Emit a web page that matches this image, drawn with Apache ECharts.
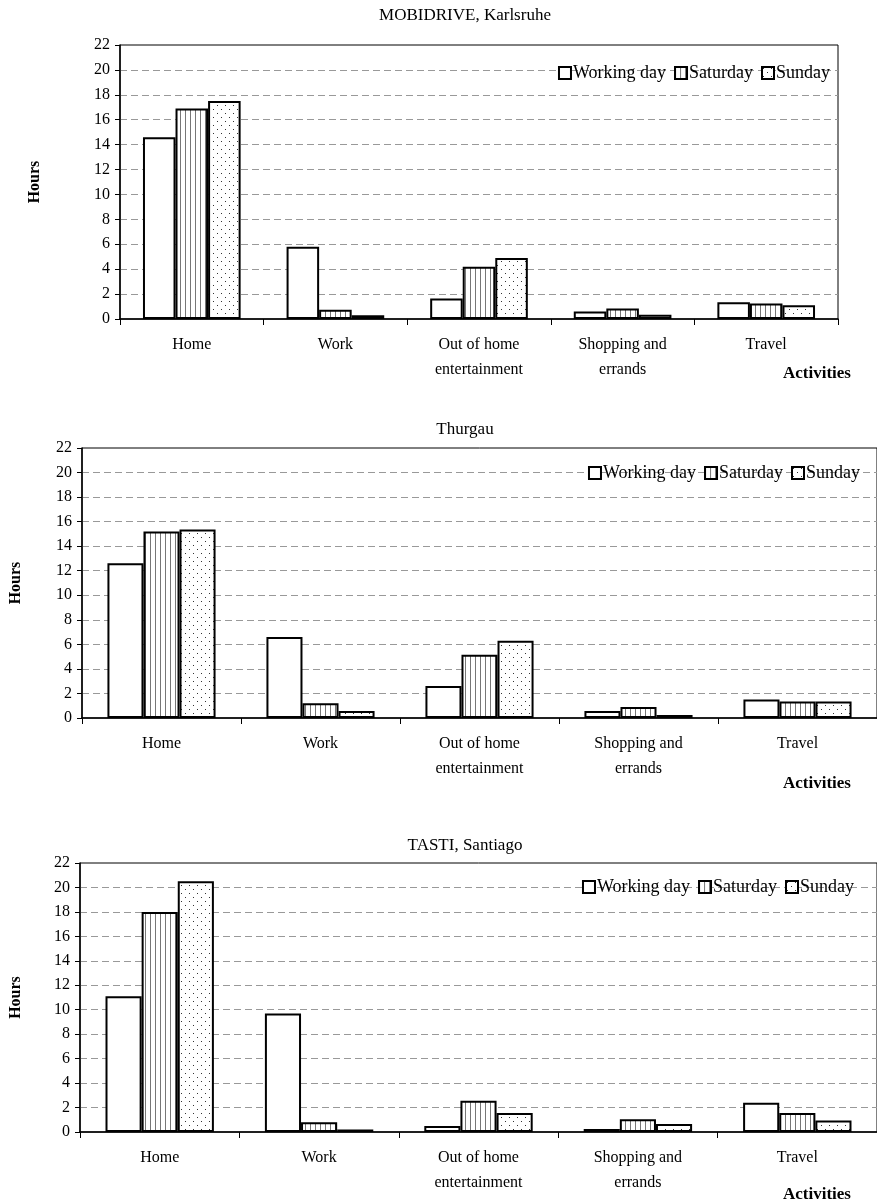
<!DOCTYPE html>
<html>
<head>
<meta charset="utf-8">
<script src="https://cdn.jsdelivr.net/npm/echarts@6/dist/echarts.min.js"></script>
<style>
  html, body { margin: 0; padding: 0; background: #fff; }
  #chart { width: 877px; height: 1201px; }
</style>
</head>
<body>
<div id="chart"></div>
<script>
// data
var categories = ['Home', 'Work', 'Out of home\nentertainment', 'Shopping and\nerrands', 'Travel'];
var dayTypes = ['Working day', 'Saturday', 'Sunday'];
var panelTitles = ['MOBIDRIVE, Karlsruhe', 'Thurgau', 'TASTI, Santiago'];
var yTicks = [0, 2, 4, 6, 8, 10, 12, 14, 16, 18, 20, 22];

var karlsruheWorking = [14.6, 5.8, 1.65, 0.6, 1.35];
var karlsruheSaturday = [16.9, 0.75, 4.2, 0.85, 1.25];
var karlsruheSunday = [17.5, 0.3, 4.9, 0.35, 1.1];

var thurgauWorking = [12.6, 6.6, 2.6, 0.57, 1.5];
var thurgauSaturday = [15.2, 1.2, 5.15, 0.9, 1.35];
var thurgauSunday = [15.35, 0.57, 6.3, 0.25, 1.35];

var santiagoWorking = [11.1, 9.7, 0.5, 0.25, 2.4];
var santiagoSaturday = [18.0, 0.8, 2.55, 1.05, 1.55];
var santiagoSunday = [20.5, 0.2, 1.55, 0.65, 0.95];

var panelData = [
  [karlsruheWorking, karlsruheSaturday, karlsruheSunday],
  [thurgauWorking, thurgauSaturday, thurgauSunday],
  [santiagoWorking, santiagoSaturday, santiagoSunday]
];

// fill patterns
function makePattern(w, h, draw) {
  var c = document.createElement('canvas');
  c.width = w; c.height = h;
  var ctx = c.getContext('2d');
  ctx.fillStyle = '#fff';
  ctx.fillRect(0, 0, w, h);
  draw(ctx);
  return { image: c, repeat: 'repeat' };
}
var stripes = makePattern(5, 4, function (ctx) {
  ctx.fillStyle = '#777';
  ctx.fillRect(0, 0, 1, 4);
});
var dots = makePattern(8, 8, function (ctx) {
  ctx.fillStyle = '#333';
  ctx.fillRect(1, 1, 1, 1);
  ctx.fillRect(5, 5, 1, 1);
});
var fills = ['#fff', stripes, dots];

// layout of the three panels
var layout = [
  { left: 120, width: 718, top: 45, height: 274, titleTop: 2, legendTop: 59, legendRight: 42, nameGap: 77, actTop: 360 },
  { left: 82, width: 800, top: 448, height: 270, titleTop: 416, legendTop: 459, legendRight: 12, nameGap: 58, actTop: 770 },
  { left: 80, width: 802, top: 863, height: 269, titleTop: 832, legendTop: 873, legendRight: 18, nameGap: 56, actTop: 1181 }
];

var font = 'Liberation Serif, Times New Roman, serif';
var grids = [], xAxes = [], yAxes = [], titles = [], legends = [], series = [];

layout.forEach(function (p, i) {
  grids.push({
    left: p.left, top: p.top, width: p.width, height: p.height,
    show: true, borderColor: '#000', borderWidth: 1, backgroundColor: 'transparent'
  });
  xAxes.push({
    type: 'category', gridIndex: i, data: categories,
    axisLine: { lineStyle: { color: '#000', width: 1.5 } },
    axisTick: { show: true, length: 6, lineStyle: { color: '#000' } },
    axisLabel: { color: '#000', fontFamily: font, fontSize: 16, margin: 13, lineHeight: 25, interval: 0 }
  });
  yAxes.push({
    type: 'value', gridIndex: i, min: 0, max: 22, interval: 2,
    name: 'Hours', nameLocation: 'middle', nameGap: p.nameGap,
    nameTextStyle: { color: '#000', fontFamily: font, fontSize: 16, fontWeight: 'bold' },
    axisLine: { show: true, lineStyle: { color: '#000', width: 1.5 } },
    axisTick: { show: true, length: 5, lineStyle: { color: '#000' } },
    axisLabel: { color: '#000', fontFamily: font, fontSize: 16, margin: 10 },
    splitLine: { show: true, showMinLine: false, showMaxLine: false,
      lineStyle: { color: '#999', type: [7, 4], width: 1 } }
  });
  titles.push({
    text: panelTitles[i], left: 460, top: p.titleTop, textAlign: 'center',
    textStyle: { color: '#000', fontFamily: font, fontSize: 17, fontWeight: 'normal' }
  });
  titles.push({
    text: 'Activities', left: 812, top: p.actTop, textAlign: 'center',
    textStyle: { color: '#000', fontFamily: font, fontSize: 17, fontWeight: 'bold' }
  });
  legends.push({
    data: dayTypes, right: p.legendRight, top: p.legendTop,
    icon: 'rect', itemWidth: 12, itemHeight: 12, itemGap: 8,
    itemStyle: { borderColor: '#000', borderWidth: 2 },
    textStyle: { color: '#000', fontFamily: font, fontSize: 18, padding: [0, 0, 0, -3] },
    selectedMode: false
  });
  dayTypes.forEach(function (d, k) {
    series.push({
      name: d, type: 'bar', xAxisIndex: i, yAxisIndex: i,
      data: panelData[i][k],
      barGap: '0%', barCategoryGap: '32%',
      itemStyle: { color: fills[k], borderColor: '#000', borderWidth: 2 },
      emphasis: { disabled: true },
      animation: false
    });
  });
});

var myChart = echarts.init(document.getElementById('chart'));
myChart.setOption({
  animation: false,
  title: titles,
  legend: legends,
  grid: grids,
  xAxis: xAxes,
  yAxis: yAxes,
  series: series
});
</script>
</body>
</html>
